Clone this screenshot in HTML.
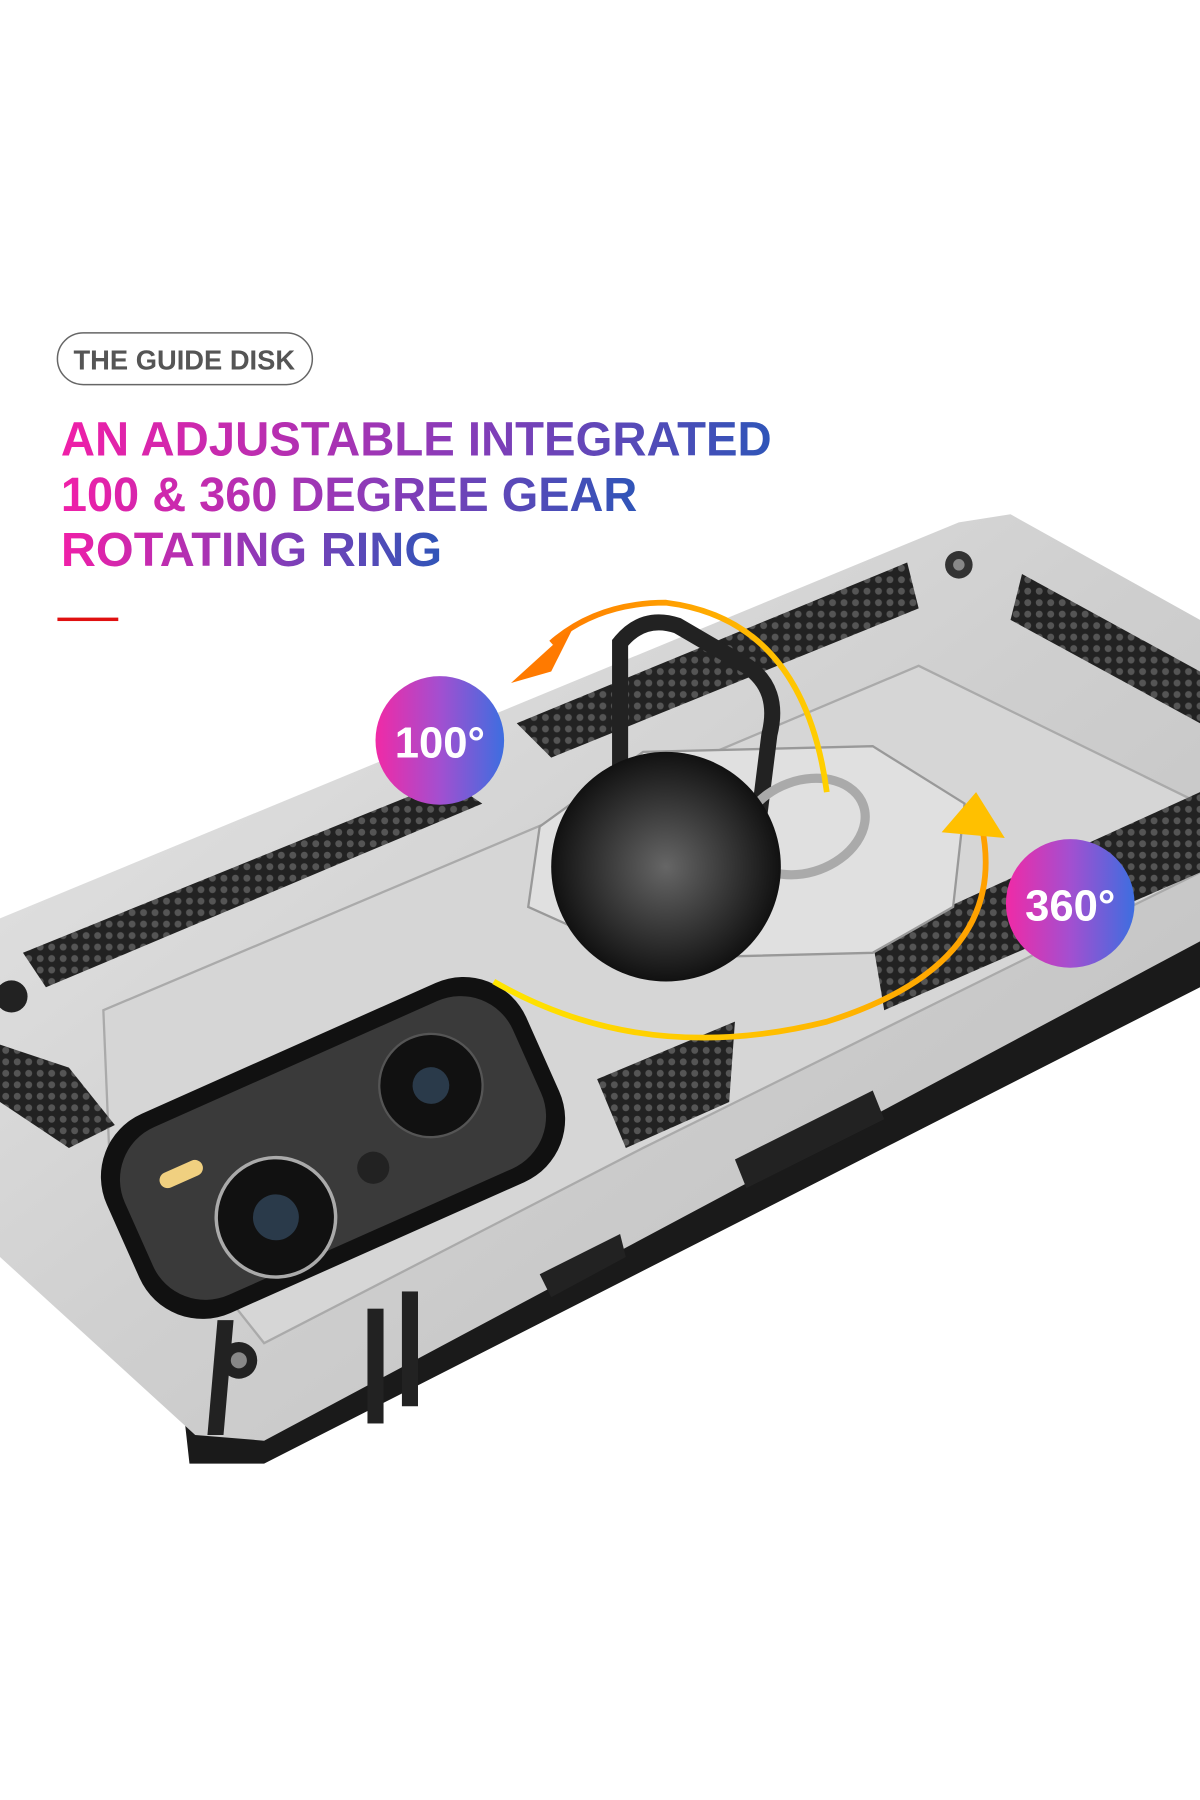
<!DOCTYPE html>
<html><head><meta charset="utf-8"><style>
html,body{margin:0;padding:0;background:#fff;}
svg{display:block}
</style></head><body>
<svg width="1200" height="1800" viewBox="0 0 1045 1568" preserveAspectRatio="none" xmlns="http://www.w3.org/2000/svg">
<defs>
<linearGradient id="tg" x1="0" x2="1" y1="0" y2="0">
<stop offset="0" stop-color="#f01fa8"/><stop offset="0.55" stop-color="#8a3bb8"/><stop offset="1" stop-color="#2f55b8"/>
</linearGradient>
<linearGradient id="bg1" x1="0" x2="1" y1="0" y2="0">
<stop offset="0" stop-color="#f02aa6"/><stop offset="0.5" stop-color="#a34fd0"/><stop offset="1" stop-color="#3d6ee0"/>
</linearGradient>
<linearGradient id="silver" x1="0" y1="0" x2="1" y2="1">
<stop offset="0" stop-color="#e8e8e8"/><stop offset="0.5" stop-color="#cfcfcf"/><stop offset="1" stop-color="#bdbdbd"/>
</linearGradient>
<linearGradient id="arc1" x1="0" x2="1"><stop offset="0" stop-color="#ff7a00"/><stop offset="1" stop-color="#ffd000"/></linearGradient>
<linearGradient id="arc2" x1="0" x2="1"><stop offset="0" stop-color="#ffe600"/><stop offset="1" stop-color="#ffa000"/></linearGradient>
<pattern id="hex" width="10" height="10" patternUnits="userSpaceOnUse">
<rect width="10" height="10" fill="#222"/><circle cx="5" cy="5" r="3" fill="#555"/>
</pattern>
<radialGradient id="disk" cx="0.5" cy="0.5" r="0.5"><stop offset="0" stop-color="#666"/><stop offset="1" stop-color="#111"/></radialGradient>
</defs>

<!-- header -->
<rect x="50" y="290" width="222" height="45" rx="22.5" fill="none" stroke="#666" stroke-width="1.3"/>
<text x="64" y="322" font-family="Liberation Sans, sans-serif" font-weight="bold" font-size="24" fill="#555" textLength="193" lengthAdjust="spacingAndGlyphs">THE GUIDE DISK</text>
<text x="53" y="397" font-family="Liberation Sans, sans-serif" font-weight="bold" font-size="42" fill="url(#tg)" textLength="619" lengthAdjust="spacingAndGlyphs">AN ADJUSTABLE INTEGRATED</text>
<text x="53" y="445" font-family="Liberation Sans, sans-serif" font-weight="bold" font-size="42" fill="url(#tg)" textLength="502" lengthAdjust="spacingAndGlyphs">100 &amp; 360 DEGREE GEAR</text>
<text x="53" y="493" font-family="Liberation Sans, sans-serif" font-weight="bold" font-size="42" fill="url(#tg)" textLength="332" lengthAdjust="spacingAndGlyphs">ROTATING RING</text>
<rect x="50" y="538" width="53" height="3" fill="#e01010"/>

<!-- phone body shadow/edge -->
<polygon points="0,830 160,1230 165,1275 230,1275 1045,860 1045,800" fill="#1a1a1a"/>
<!-- phone body -->
<polygon points="0,800 835,455 880,448 1045,540 1045,820 230,1255 170,1250 0,1095" fill="url(#silver)"/>
<!-- inner panel -->
<polygon points="90,880 800,580 1045,700 1045,760 560,1000 230,1170 95,1000" fill="#d6d6d6" stroke="#aaa" stroke-width="2"/>
<!-- hex grip strips -->
<polygon points="20,830 390,680 420,700 40,860" fill="url(#hex)"/>
<polygon points="450,630 790,490 800,530 480,660" fill="url(#hex)"/>
<polygon points="890,500 1045,585 1045,630 880,540" fill="url(#hex)"/>
<polygon points="760,820 1045,690 1045,760 770,880" fill="url(#hex)"/>
<polygon points="520,940 640,890 635,960 545,1000" fill="url(#hex)"/>
<polygon points="0,910 60,930 100,980 60,1000 0,960" fill="url(#hex)"/>
<!-- screws -->
<circle cx="835" cy="492" r="12" fill="#333"/><circle cx="835" cy="492" r="5" fill="#888"/>
<circle cx="208" cy="1185" r="16" fill="#222"/><circle cx="208" cy="1185" r="7" fill="#888"/>
<circle cx="10" cy="868" r="14" fill="#222"/>
<!-- camera module -->
<g transform="rotate(-24 290 1000)">
<rect x="90" y="905" width="400" height="190" rx="60" fill="#111"/>
<rect x="105" y="920" width="370" height="160" rx="50" fill="#3a3a3a"/>
<circle cx="220" cy="1035" r="52" fill="#111" stroke="#aaa" stroke-width="3"/>
<circle cx="220" cy="1035" r="20" fill="#2a3a4a"/>
<circle cx="390" cy="985" r="45" fill="#111" stroke="#555" stroke-width="2"/>
<circle cx="390" cy="985" r="16" fill="#2a3a4a"/>
<circle cx="315" cy="1030" r="14" fill="#222"/>
<rect x="140" y="960" width="40" height="14" rx="7" fill="#f0d080"/>
</g>
<!-- side buttons -->
<polygon points="470,1110 540,1075 545,1095 480,1130" fill="#222"/>
<polygon points="640,1010 760,950 770,975 650,1035" fill="#222"/>
<!-- bottom vents -->
<rect x="290" y="1150" width="14" height="100" fill="#222" transform="skewX(-5)"/>
<rect x="320" y="1140" width="14" height="100" fill="#222"/>
<rect x="350" y="1125" width="14" height="100" fill="#222"/>

<!-- ring base octagon -->
<polygon points="470,720 560,655 760,650 840,700 830,790 760,830 560,835 460,790" fill="#e0e0e0" stroke="#999" stroke-width="2"/>
<!-- ring loop -->
<path d="M540,760 L540,560 Q560,535 590,545 L650,580 Q680,600 670,640 L650,800" fill="none" stroke="#222" stroke-width="14"/>
<ellipse cx="700" cy="720" rx="55" ry="40" fill="none" stroke="#aaa" stroke-width="8" transform="rotate(-20 700 720)"/>
<!-- disk -->
<circle cx="580" cy="755" r="100" fill="url(#disk)"/>

<!-- arrows -->
<path d="M720,690 Q700,540 580,525 Q520,525 480,560" fill="none" stroke="url(#arc1)" stroke-width="5"/>
<polygon points="445,595 500,545 480,585" fill="#ff7a00"/>
<path d="M430,855 Q560,930 720,890 Q880,840 855,720" fill="none" stroke="url(#arc2)" stroke-width="5"/>
<polygon points="850,690 820,725 875,730" fill="#ffc000"/>

<!-- badges -->
<circle cx="383" cy="645" r="56" fill="url(#bg1)"/>
<text x="383" y="660" text-anchor="middle" font-family="Liberation Sans, sans-serif" font-weight="bold" font-size="38" fill="#fff">100°</text>
<circle cx="932" cy="787" r="56" fill="url(#bg1)"/>
<text x="932" y="802" text-anchor="middle" font-family="Liberation Sans, sans-serif" font-weight="bold" font-size="38" fill="#fff">360°</text>
</svg>
</body></html>
